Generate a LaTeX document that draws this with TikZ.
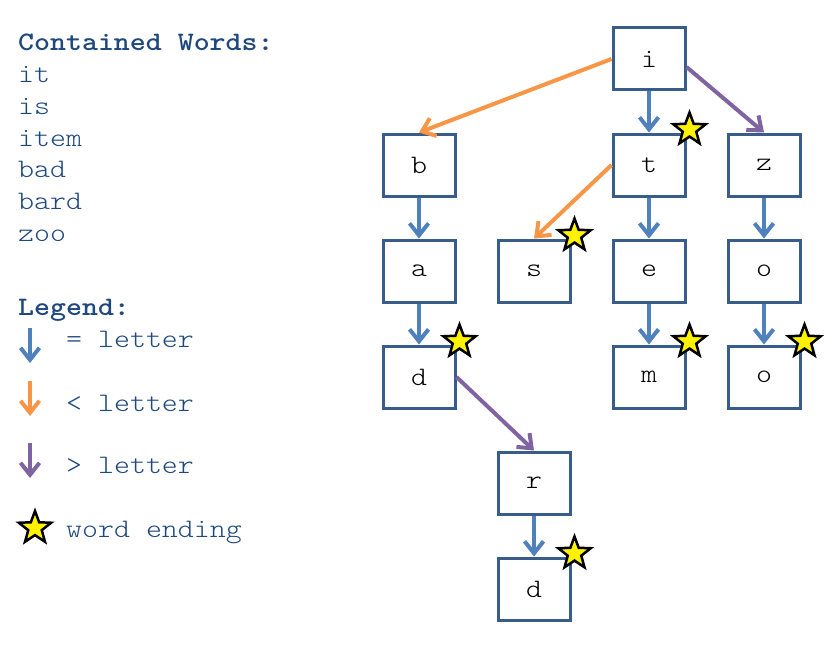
\documentclass[tikz,border=0pt]{standalone}
\usepackage{fontspec}
\setmainfont{lmmonolt10-regular.otf}[FakeStretch=1.14, BoldFont=lmmonolt10-bold.otf]
\usetikzlibrary{positioning, shapes.geometric, arrows.meta}

\definecolor{boxline}{HTML}{385D8A}
\definecolor{textblue}{HTML}{1F497D}
\definecolor{eqblue}{HTML}{4F81BD}
\definecolor{ltorange}{HTML}{F79646}
\definecolor{gtpurple}{HTML}{8064A2}

\begin{document}
\begin{tikzpicture}[x=1pt, y=-1pt,
    font=\fontsize{26.67}{32}\selectfont,
    letter/.style={draw=boxline, line width=3pt, fill=white, minimum width=72pt, minimum height=62pt, inner sep=0pt},
    ending/.style={star, star points=5, star point ratio=2.4, draw=black, line width=2.5pt, fill=yellow, minimum size=34pt, inner sep=0pt},
    link/.style={line width=4pt, -{Straight Barb[length=12pt, width=19pt]}},
    words/.style={anchor=base west, inner sep=0pt, text=textblue},
    node distance=106pt and 115pt, on grid]
    \useasboundingbox (0,0) rectangle (834,650);

    % word list
    \node[words] (title) at (18,51) {\textbf{Contained Words:}};
    \node[words] (w1) at (18,83) {it};
    \node[words] (w2) at (18,114) {is};
    \node[words] (w3) at (18,146) {item};
    \node[words] (w4) at (18,177) {bad};
    \node[words] (w5) at (18,209) {bard};
    \node[words] (w6) at (18,241) {zoo};

    % legend
    \node[words] (legend) at (18,315) {\textbf{Legend:}};
    \coordinate (eq-a) at (30,328);  \coordinate (eq-b) at (30,363);
    \coordinate (lt-a) at (30,381);  \coordinate (lt-b) at (30,416);
    \coordinate (gt-a) at (30,443);  \coordinate (gt-b) at (30,478);
    \draw[link, eqblue] (eq-a) -- (eq-b);
    \draw[link, ltorange] (lt-a) -- (lt-b);
    \draw[link, gtpurple] (gt-a) -- (gt-b);
    \node[words] (eq-text) at (66,347) {= letter};
    \node[words] (lt-text) at (66,411) {< letter};
    \node[words] (gt-text) at (66,473) {> letter};
    \node[ending] (end-key) at (35,528) {};
    \node[words] (end-text) at (66,537) {word ending};

    % trie
    \node[letter] (i) at (649,59) {i};
    \node[letter, below=of i] (t) {t};
    \node[letter, left=230pt of t] (b) {b};
    \node[letter, right=of t] (z) {z};
    \node[letter, below=of b] (a) {a};
    \node[letter, below=of t] (e) {e};
    \node[letter, left=of e] (s) {s};
    \node[letter, below=of z] (o) {o};
    \node[letter, below=of a] (d) {d};
    \node[letter, below=of e] (m) {m};
    \node[letter, below=of o] (oo) {o};
    \node[letter, below right=of d] (r) {r};
    \node[letter, below=of r] (dd) {d};

    \draw[link, eqblue] (i) -- (t);
    \draw[link, eqblue] (b) -- (a);
    \draw[link, eqblue] (a) -- (d);
    \draw[link, eqblue] (t) -- (e);
    \draw[link, eqblue] (e) -- (m);
    \draw[link, eqblue] (z) -- (o);
    \draw[link, eqblue] (o) -- (oo);
    \draw[link, eqblue] (r) -- (dd);
    \draw[link, ltorange] (i.west) -- (b.north);
    \draw[link, ltorange] (t.west) -- (s.north);
    \draw[link, gtpurple] (i.-12) -- (z.north);
    \draw[link, gtpurple] (d.east) -- (r.north);

    % word endings
    \node[ending] (t-end) at ([shift={(3,-3)}]t.north east) {};
    \node[ending] (s-end) at ([shift={(3,-3)}]s.north east) {};
    \node[ending] (d-end) at ([shift={(3,-3)}]d.north east) {};
    \node[ending] (m-end) at ([shift={(3,-3)}]m.north east) {};
    \node[ending] (oo-end) at ([shift={(3,-3)}]oo.north east) {};
    \node[ending] (dd-end) at ([shift={(3,-3)}]dd.north east) {};
\end{tikzpicture}
\end{document}
